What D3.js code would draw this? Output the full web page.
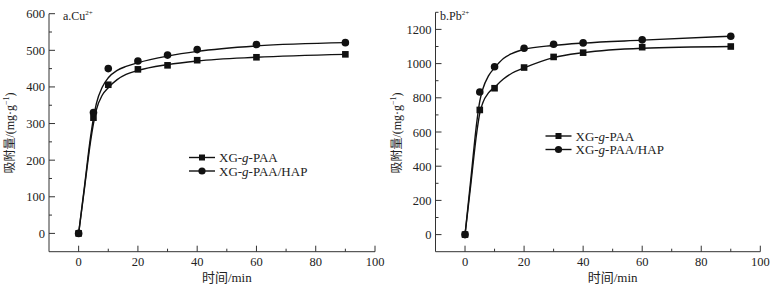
<!DOCTYPE html>
<html><head><meta charset="utf-8">
<script src="https://cdn.jsdelivr.net/npm/d3@7"></script>
<style>
html,body{margin:0;padding:0;background:#fff;}
svg{display:block;}
text{font-family:"Liberation Serif","Times New Roman","Noto Sans CJK SC",serif;fill:#222;}
</style></head><body>
<svg id="c" width="778" height="289"></svg>
<script>
// measured data
const times = [0, 5, 10, 20, 30, 40, 60, 90];
const cuPAA = [0, 316, 406, 448, 459, 473, 481, 489];
const cuPAAHAP = [0, 330, 450, 471, 487, 502, 516, 521];
const pbPAA = [0, 729, 856, 977, 1039, 1064, 1096, 1100];
const pbPAAHAP = [0, 834, 982, 1090, 1113, 1121, 1139, 1160];
// fitted curves
const fitTimes = [0, 2, 4, 5, 6, 8, 10, 13, 16, 20, 30, 40, 60, 90];
const fitCuPAA = [0, 125, 250, 300, 338, 378, 398, 420, 434, 445, 461, 471, 481, 489];
const fitCuPAAHAP = [0, 130, 262, 315, 355, 400, 425, 445, 456, 466, 484, 497, 512, 521];
const fitPbPAA = [0, 300, 600, 710, 770, 830, 862, 910, 945, 975, 1035, 1064, 1090, 1100];
const fitPbPAAHAP = [0, 330, 660, 780, 850, 930, 975, 1030, 1060, 1083, 1106, 1120, 1137, 1160];
const xTicks = [0, 20, 40, 60, 80, 100];
const cuTicks = [0, 100, 200, 300, 400, 500, 600];
const pbTicks = [0, 200, 400, 600, 800, 1000, 1200];
const seriesNames = ["XG-g-PAA", "XG-g-PAA/HAP"];

const svg = d3.select("#c");

function panel(opt) {
  const x = d3.scaleLinear().domain([-10, 100]).range(opt.xr);
  const y = d3.scaleLinear().domain(opt.yd).range(opt.yr);
  const g = svg.append("g");
  const axisCol = "#333";
  // x axis
  const xa = g.append("g").attr("transform", `translate(0,${opt.yr[0]})`);
  xa.append("line").attr("x1", opt.xr[0]).attr("x2", opt.xr[1]).attr("stroke", axisCol).attr("stroke-width", 1);
  d3.range(0, 101, 10).forEach(v => {
    const major = v % 20 === 0;
    xa.append("line").attr("x1", x(v)).attr("x2", x(v)).attr("y1", 0).attr("y2", major ? -6 : -3)
      .attr("stroke", axisCol);
  });
  xTicks.forEach(v => {
    xa.append("text").attr("x", x(v)).attr("y", 14).attr("text-anchor", "middle")
      .attr("font-size", 12.5).text(v);
  });
  g.append("text").attr("x", (x(0) + x(100)) / 2 + opt.xtDx).attr("y", 282).attr("text-anchor", "middle")
    .attr("font-size", 13).attr("font-family", "Noto Sans CJK SC, sans-serif")
    .text("时间/min");
  // y axis
  const ya = g.append("g").attr("transform", `translate(${opt.xr[0]},0)`);
  ya.append("line").attr("y1", opt.yr[0]).attr("y2", opt.yr[1]).attr("stroke", axisCol);
  const step = opt.ticks[1] - opt.ticks[0];
  d3.range(opt.yd[0] + step / 2, opt.yd[1] + 1, step / 2).forEach(v => {
    const major = Math.abs(v % step) < 1e-6;
    ya.append("line").attr("y1", y(v)).attr("y2", y(v)).attr("x1", 0).attr("x2", major ? 6 : 3)
      .attr("stroke", axisCol);
  });
  opt.ticks.forEach(v => {
    ya.append("text").attr("x", -4).attr("y", y(v) + 4.5).attr("text-anchor", "end")
      .attr("font-size", 12.5).text(v);
  });
  const yl = g.append("text").attr("transform", `translate(${opt.xr[0] - 35},${opt.ylCy}) rotate(-90)`)
    .attr("text-anchor", "middle").attr("font-size", 12);
  yl.append("tspan").attr("font-family", "Noto Sans CJK SC, sans-serif").text("吸附量");
  yl.append("tspan").text("/(mg·g");
  yl.append("tspan").attr("font-size", 8).attr("dy", -5).text("−1");
  yl.append("tspan").attr("dy", 5).text(")");
  // panel title
  const t = g.append("text").attr("x", opt.titleX).attr("y", 20).attr("font-size", 12);
  t.append("tspan").text(opt.title[0]);
  t.append("tspan").attr("font-size", 7).attr("dy", -5).text(opt.title[1]);

  // curves
  const line = d3.line().x((d, i) => x(fitTimes[i])).y(d => y(d)).curve(d3.curveMonotoneX);
  [opt.fit[0], opt.fit[1]].forEach(arr => {
    g.append("path").attr("d", line(arr)).attr("fill", "none").attr("stroke", "#111").attr("stroke-width", 1.4);
  });
  // markers
  opt.data[0].forEach((v, i) => {
    g.append("rect").attr("x", x(times[i]) - 3.3).attr("y", y(v) - 3.3).attr("width", 6.6).attr("height", 6.6).attr("fill", "#111");
  });
  opt.data[1].forEach((v, i) => {
    g.append("circle").attr("cx", x(times[i])).attr("cy", y(v)).attr("r", 3.8).attr("fill", "#111");
  });
  // legend
  seriesNames.forEach((name, i) => {
    const ly = opt.leg[1] + i * 13.5;
    const lx = opt.leg[0];
    g.append("line").attr("x1", lx).attr("x2", lx + 26).attr("y1", ly).attr("y2", ly).attr("stroke", "#111").attr("stroke-width", 1.4);
    if (i === 0) g.append("rect").attr("x", lx + 13 - 3).attr("y", ly - 3).attr("width", 6).attr("height", 6).attr("fill", "#111");
    else g.append("circle").attr("cx", lx + 13).attr("cy", ly).attr("r", 3.6).attr("fill", "#111");
    const tx = g.append("text").attr("x", lx + 30).attr("y", ly + 4.5).attr("font-size", 13);
    tx.append("tspan").text("XG-");
    tx.append("tspan").attr("font-style", "italic").text("g");
    tx.append("tspan").text(i === 0 ? "-PAA" : "-PAA/HAP");
  });
}

panel({
  xr: [49, 375], yd: [-50, 600], yr: [251.7, 13.7], ticks: cuTicks,
  data: [cuPAA, cuPAAHAP], fit: [fitCuPAA, fitCuPAAHAP],
  title: ["a.Cu", "2+"], titleX: 63, leg: [189, 157.5], ylCy: 133, xtDx: 0
});
panel({
  xr: [435.5, 760.3], yd: [-100, 1300], yr: [251.7, 12.3], ticks: pbTicks,
  data: [pbPAA, pbPAAHAP], fit: [fitPbPAA, fitPbPAAHAP],
  title: ["b.Pb", "2+"], titleX: 440, leg: [545.5, 136], ylCy: 133, xtDx: 0
});
</script>
</body></html>
